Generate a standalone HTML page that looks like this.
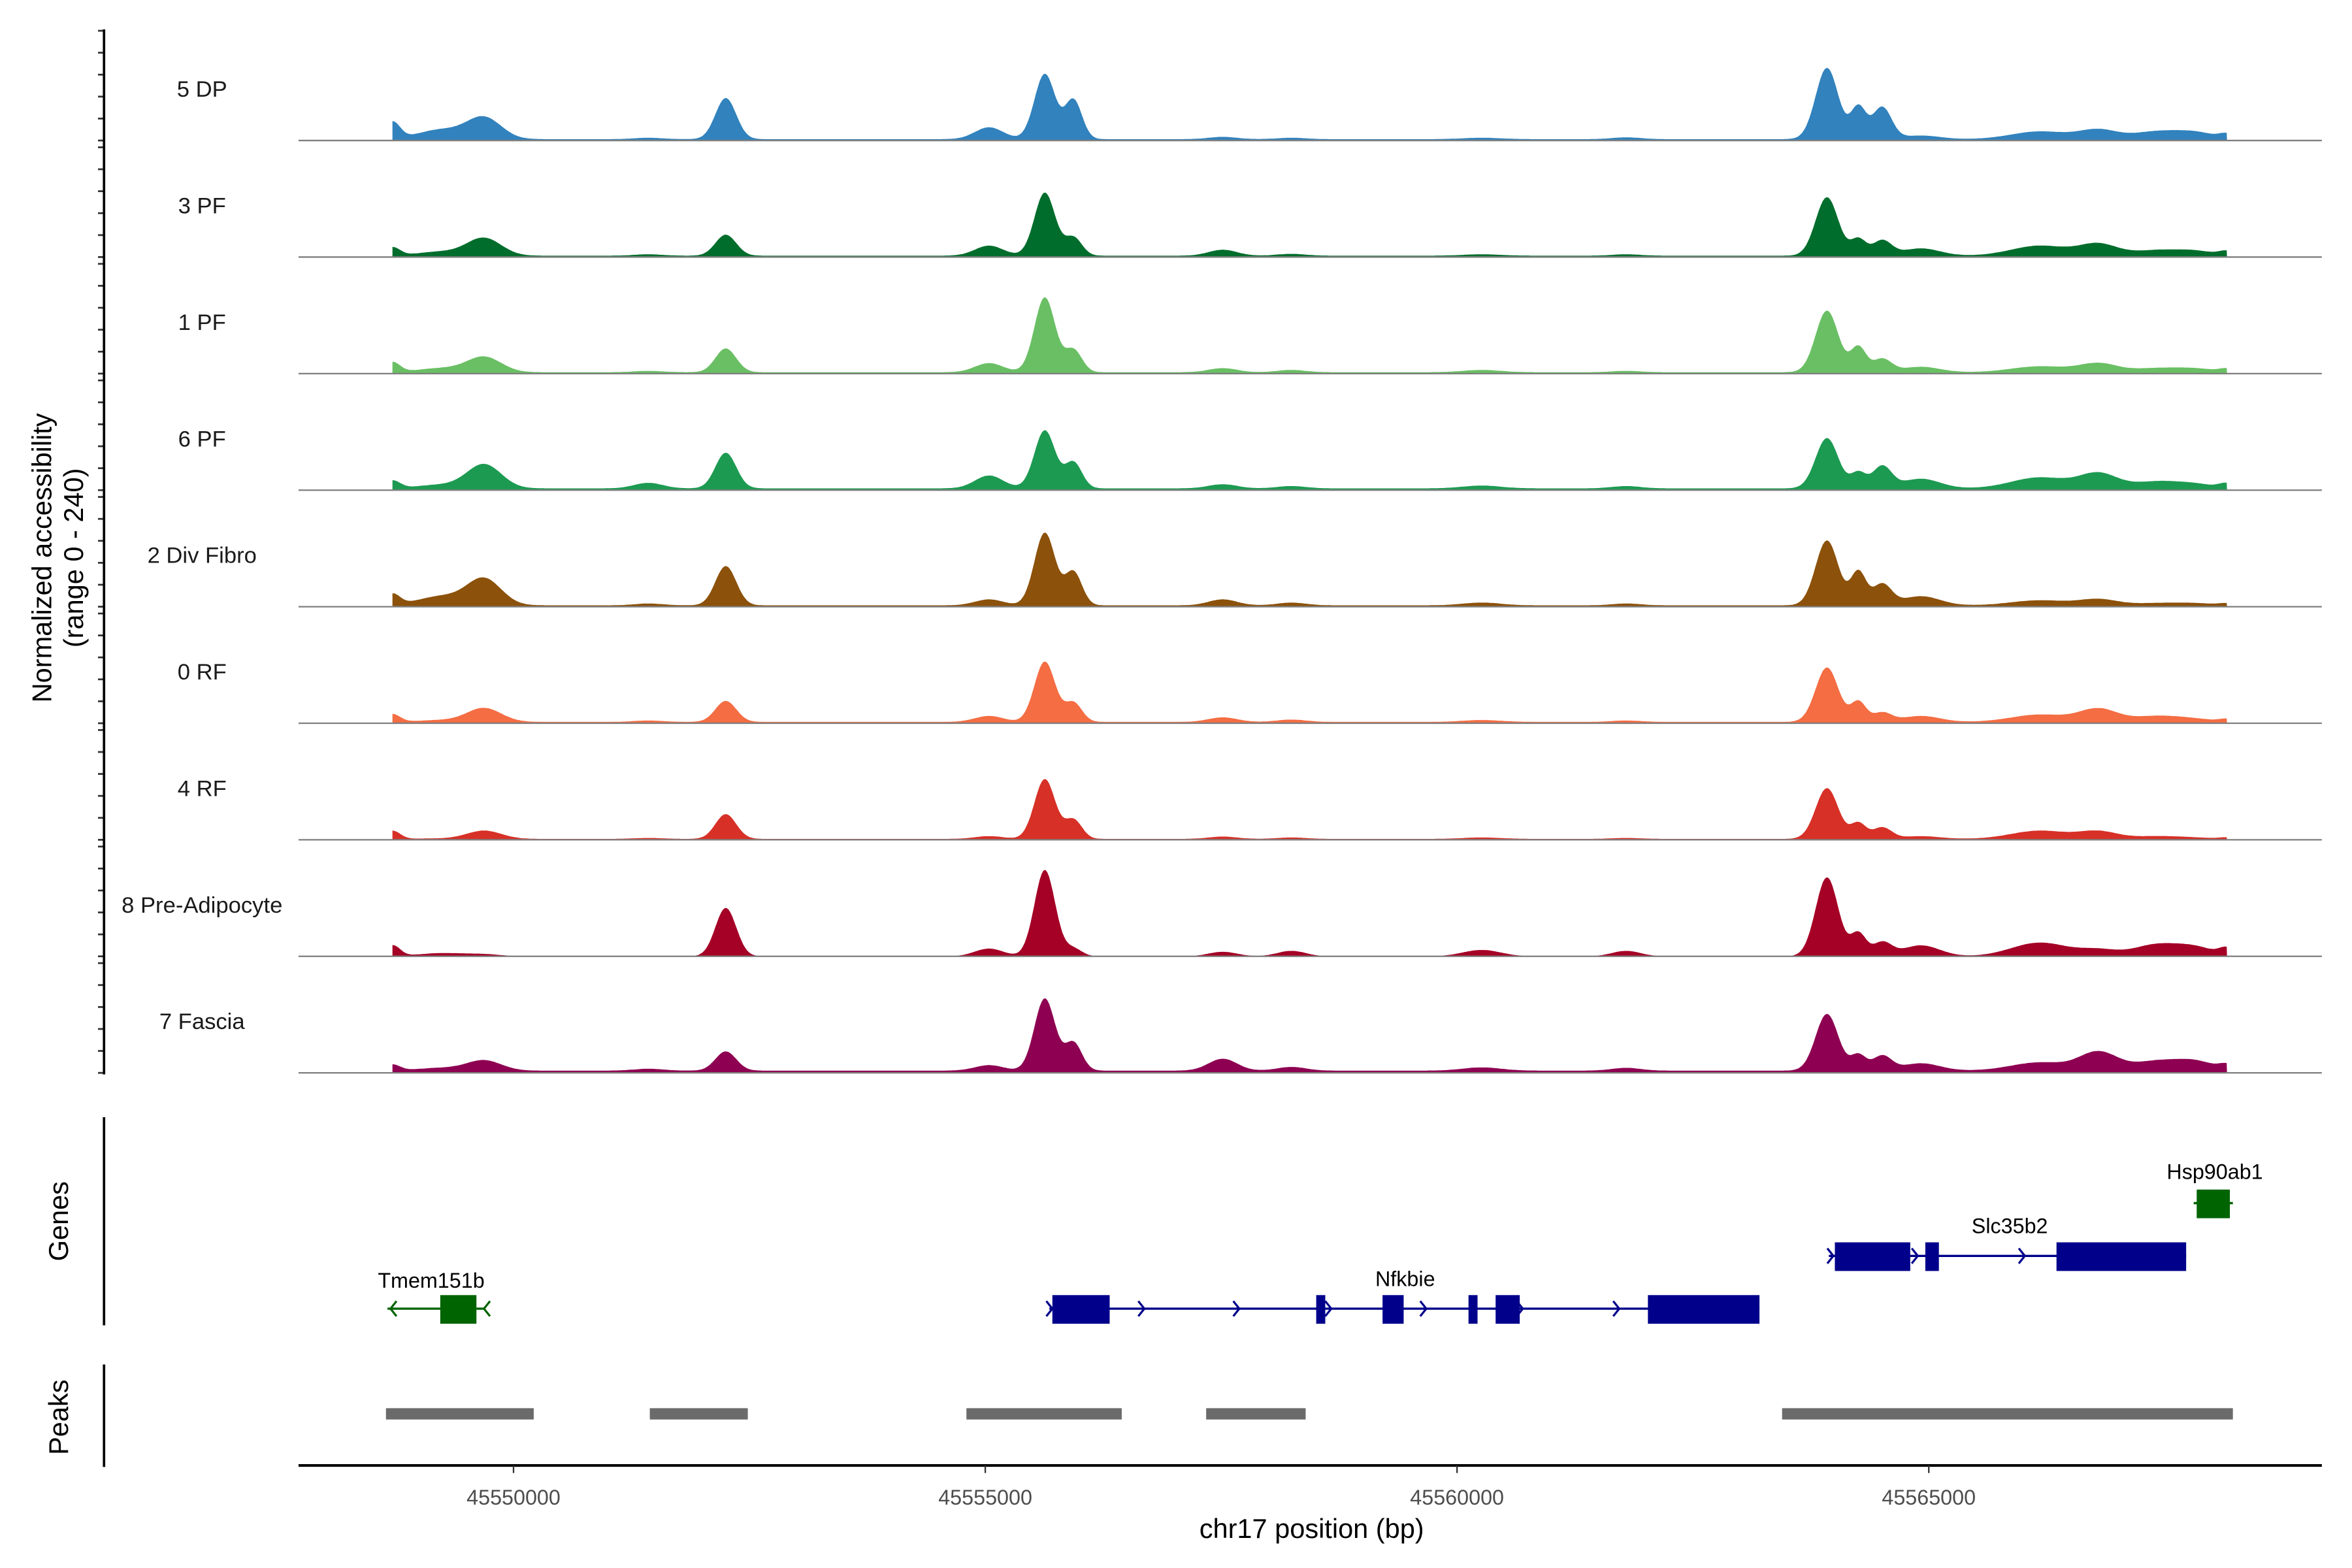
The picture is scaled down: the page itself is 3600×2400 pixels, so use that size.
<!DOCTYPE html>
<html><head><meta charset="utf-8"><style>
html,body{margin:0;padding:0;background:#fff}
svg{display:block;font-family:"Liberation Sans",sans-serif}
</style></head><body>
<svg id="chart" width="3600" height="2400" viewBox="0 0 1560 1040" xmlns="http://www.w3.org/2000/svg">
<rect width="1560" height="1040" fill="#fff"/>
<g id="tracks"></g>
<g id="leftaxis"></g>
<text transform="translate(34,370) rotate(-90)" text-anchor="middle" font-size="18" fill="#000">Normalized accessibility</text>
<text transform="translate(55,370) rotate(-90)" text-anchor="middle" font-size="18" fill="#000">(range 0 - 240)</text>
<line x1="69" y1="741" x2="69" y2="879" stroke="#000" stroke-width="1.6"/>
<text transform="translate(45,810) rotate(-90)" text-anchor="middle" font-size="18">Genes</text>
<g id="genes"></g>
<line x1="69" y1="905" x2="69" y2="973" stroke="#000" stroke-width="1.6"/>
<text transform="translate(45,940) rotate(-90)" text-anchor="middle" font-size="18">Peaks</text>
<g id="peaks"></g>
<line x1="198" y1="972" x2="1540" y2="972" stroke="#000" stroke-width="1.8"/>
<g id="xticks"></g>
<text x="870" y="1020" text-anchor="middle" font-size="18">chr17 position (bp)</text>
</svg>
<script>
const trackNames = ["5 DP","3 PF","1 PF","6 PF","2 Div Fibro","0 RF","4 RF","8 Pre-Adipocyte","7 Fascia"];
const trackColors = ["#3182bd","#006d2c","#6abf64","#1d9a52","#8c510a","#f46d43","#d73027","#a50026","#8e0152"];
const peakPositions = [45548717,45549239,45549690,45551429,45552250,45555040,45555631,45555935,45557517,45558245,45560262,45561793,45563921,45564254,45564505,45564916,45566178,45566801,45567424,45567839,45568160];
const peakWidths = [80,250,180,150,110,150,110,90,150,150,200,150,120,80,100,200,300,200,250,200,80];
const hDP = [37,21,46,3,90,26,143,86,5,3,3,4,156,70,70,8,17,20,17,13,10];
const h3PF = [18,9,38,3,46,22,138,40,13,4,3,3,128,36,33,16,22,25,12,9,9];
const h1PF = [22,9,33,3,52,20,164,49,9,5,5,3,135,55,29,12,13,19,9,7,7];
const h6PF = [17,8,52,12,78,28,127,57,9,5,6,5,110,34,48,21,24,32,15,8,10];
const hDiv = [24,20,57,4,86,13,159,73,13,6,6,4,142,73,46,20,11,13,5,4,4];
const h0RF = [17,4,30,3,46,13,132,42,10,5,4,3,119,44,20,13,16,28,13,5,6];
const h4RF = [18,1,18,2,54,6,131,42,5,3,3,2,111,34,25,6,18,16,6,2,3];
const hPre = [24,7,4,0,106,17,189,17,10,12,14,12,173,50,30,24,30,13,26,17,16];
const hFas = [13,6,22,4,42,12,158,61,26,8,7,6,124,34,32,16,18,40,21,18,11];
const trackHeights = [hDP,h3PF,h1PF,h6PF,hDiv,h0RF,h4RF,hPre,hFas];
const trackFloors = [3,3,3,4,3,3,2,0,5];
const xTicks = [45550000,45555000,45560000,45565000];
const regionStart = 45548717, regionEnd = 45568160;
const yMax = 240;
const NS="http://www.w3.org/2000/svg";
function x(bp){return 340.6+(bp-45550000)*0.06258;}
function mk(tag,attrs,parent){const e=document.createElementNS(NS,tag);for(const k in attrs)e.setAttribute(k,attrs[k]);parent.appendChild(e);return e;}
const tg=document.getElementById('tracks');
const la=document.getElementById('leftaxis');
const base0=93.2, step=77.3, th=72.8;
trackNames.forEach((name,i)=>{
  const b=base0+i*step;
  const y=v=>b-v/yMax*th;
  const hs=trackHeights[i];
  let pts=[`${x(regionStart).toFixed(1)},${b}`];
  for(let bp=regionStart;bp<=regionEnd;bp+=20){
    let v=trackFloors[i];
    for(let k=0;k<peakPositions.length;k++){const d=(bp-peakPositions[k])/peakWidths[k];if(Math.abs(d)<5)v+=hs[k]*Math.exp(-0.5*d*d);}
    pts.push(`${x(bp).toFixed(1)},${y(Math.min(v,yMax)).toFixed(1)}`);
  }
  pts.push(`${x(regionEnd).toFixed(1)},${b}`);
  const p=mk('polygon',{points:pts.join(' '),fill:trackColors[i]},tg);
  
  
  const bl=mk('line',{x1:198,x2:1540,y1:b,y2:b,stroke:'#7f7f7f','stroke-width':1},tg);
  
  
  const t=mk('text',{x:134,y:b-29,'text-anchor':'middle','font-size':15,fill:'#1a1a1a'},tg);
  t.textContent=name;
  
  
  for(let k=0;k<=5;k++){
    const ty=b-k*th/5;
    const tk=mk('line',{x1:65,x2:69,y1:ty,y2:ty,stroke:'#333','stroke-width':1.2},la);
    
    
  }
});
const ax=mk('line',{x1:69,x2:69,y1:19.5,y2:base0+8*step+1,stroke:'#000','stroke-width':1.6},la);


const xg=document.getElementById('xticks');
xTicks.forEach(v=>{
  const l=mk('line',{x1:x(v),x2:x(v),y1:972,y2:977,stroke:'#333','stroke-width':1},xg);
  
  
  const t=mk('text',{x:x(v),y:998,'text-anchor':'middle','font-size':14,fill:'#4d4d4d'},xg);
  t.textContent=v;
  
  
});
</script>
<script>
(function(){
const gg=document.getElementById('genes');
const NS="http://www.w3.org/2000/svg";
function mk(tag,attrs,parent){const e=document.createElementNS(NS,tag);for(const k in attrs)e.setAttribute(k,attrs[k]);parent.appendChild(e);return e;}
const navy="#00008b", green="#006400";
function chev(cx,cy,dir,col){const d=dir>0?`M${cx-3},${cy-5} L${cx+1},${cy} L${cx-3},${cy+5}`:`M${cx+3},${cy-5} L${cx-1},${cy} L${cx+3},${cy+5}`;const p=mk('path',{d:d,fill:'none',stroke:col,'stroke-width':1.4},gg);}
let l=mk('line',{x1:257,x2:321,y1:868,y2:868,stroke:green,'stroke-width':1.5},gg);


chev(260,868,-1,green);chev(322,868,-1,green);
let r=mk('rect',{x:292,y:859,width:24,height:19,fill:green},gg);


let t=mk('text',{x:286,y:854,'text-anchor':'middle','font-size':14},gg);t.textContent='Tmem151b';


l=mk('line',{x1:696,x2:1167,y1:868,y2:868,stroke:navy,'stroke-width':1.5},gg);


[[698,736],[873,879],[917,931],[974,980],[992,1008],[1093,1167]].forEach(e=>{const q=mk('rect',{x:e[0],y:859,width:e[1]-e[0],height:19,fill:navy},gg);});
[697,758,821,882,945,1009,1073].forEach(c=>chev(c,868,1,navy));
t=mk('text',{x:932,y:853,'text-anchor':'middle','font-size':14},gg);t.textContent='Nfkbie';


l=mk('line',{x1:1213,x2:1450,y1:833,y2:833,stroke:navy,'stroke-width':1.5},gg);


[[1217,1267],[1277,1286],[1364,1450]].forEach(e=>{const q=mk('rect',{x:e[0],y:824,width:e[1]-e[0],height:19,fill:navy},gg);});
[1215,1271,1342].forEach(c=>chev(c,833,1,navy));
t=mk('text',{x:1333,y:818,'text-anchor':'middle','font-size':14},gg);t.textContent='Slc35b2';


l=mk('line',{x1:1455,x2:1481,y1:798,y2:798,stroke:green,'stroke-width':1.5},gg);


r=mk('rect',{x:1457,y:789,width:22,height:19,fill:green},gg);


t=mk('text',{x:1469,y:782,'text-anchor':'middle','font-size':14},gg);t.textContent='Hsp90ab1';


const pg=document.getElementById('peaks');
[[256,354],[431,496],[641,744],[800,866],[1182,1481]].forEach(p=>{const q=mk('rect',{x:p[0],y:934,width:p[1]-p[0],height:7.5,fill:'#6b6b6b'},pg);});
})();
</script>
</body></html>
